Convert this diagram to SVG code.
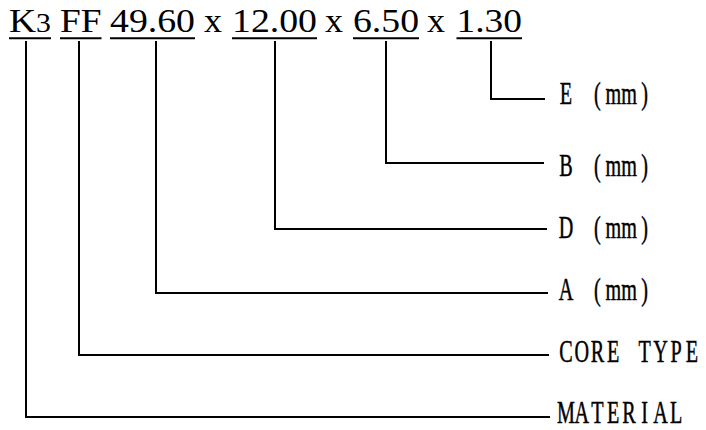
<svg xmlns="http://www.w3.org/2000/svg" width="706" height="430" viewBox="0 0 706 430">
<style>
.code{font-family:"Liberation Serif","Times New Roman",serif;font-size:34px;fill:#000}
.lbl{font-family:"Liberation Serif","Times New Roman",serif;font-size:31.5px;fill:#000;stroke:#000;stroke-width:0.5;text-anchor:middle}
.ul{stroke:#000;stroke-width:2}
.conn{fill:none;stroke:#000;stroke-width:2;stroke-linejoin:miter}
</style>
<rect width="706" height="430" fill="#fff"/>
<g id="code">
  <g id="tok-material"><text class="code" x="9" y="32" textLength="42" lengthAdjust="spacingAndGlyphs">K<tspan font-size="27">3</tspan></text><line class="ul" x1="9" y1="38.3" x2="51" y2="38.3"/></g>
  <g id="tok-core"><text class="code" x="60" y="32" textLength="41.5" lengthAdjust="spacingAndGlyphs">FF</text><line class="ul" x1="60" y1="38.3" x2="101.5" y2="38.3"/></g>
  <g id="tok-a"><text class="code" x="110" y="32" textLength="85" lengthAdjust="spacingAndGlyphs">49.60</text><line class="ul" x1="110" y1="38.3" x2="195" y2="38.3"/></g>
  <text class="code" x="204" y="32" textLength="18" lengthAdjust="spacingAndGlyphs">x</text>
  <g id="tok-d"><text class="code" x="232" y="32" textLength="85" lengthAdjust="spacingAndGlyphs">12.00</text><line class="ul" x1="232" y1="38.3" x2="317" y2="38.3"/></g>
  <text class="code" x="325" y="32" textLength="18" lengthAdjust="spacingAndGlyphs">x</text>
  <g id="tok-b"><text class="code" x="353" y="32" textLength="66" lengthAdjust="spacingAndGlyphs">6.50</text><line class="ul" x1="353" y1="38.3" x2="419" y2="38.3"/></g>
  <text class="code" x="427" y="32" textLength="18" lengthAdjust="spacingAndGlyphs">x</text>
  <g id="tok-e"><text class="code" x="456.5" y="32" textLength="65.5" lengthAdjust="spacingAndGlyphs">1.30</text><line class="ul" x1="456.5" y1="38.3" x2="522" y2="38.3"/></g>
</g>
<g id="connectors">
  <polyline class="conn" points="26,41 26,417 550,417"/>
  <polyline class="conn" points="79,41 79,355 549,355"/>
  <polyline class="conn" points="156,41 156,293 548,293"/>
  <polyline class="conn" points="275,41 275,229 547,229"/>
  <polyline class="conn" points="386,41 386,163 544,163"/>
  <polyline class="conn" points="491,41 491,99 545,99"/>
</g>
<g id="label-e"><text class="lbl" transform="matrix(0.64 0 0 1 566 104)" x="0 49.2 73.8 98.4 123" y="0">E(mm)</text></g>
<g id="label-b"><text class="lbl" transform="matrix(0.64 0 0 1 566 176)" x="0 49.2 73.8 98.4 123" y="0">B(mm)</text></g>
<g id="label-d"><text class="lbl" transform="matrix(0.64 0 0 1 566 238)" x="0 49.2 73.8 98.4 123" y="0">D(mm)</text></g>
<g id="label-a"><text class="lbl" transform="matrix(0.64 0 0 1 566 300)" x="0 49.2 73.8 98.4 123" y="0">A(mm)</text></g>
<g id="label-core"><text class="lbl" transform="matrix(0.64 0 0 1 566 362)" x="0 24.6 49.2 73.8 123 147.6 172.2 196.8" y="0">CORETYPE</text></g>
<g id="label-material"><text class="lbl" transform="matrix(0.64 0 0 1 566 423)" x="0 24.6 49.2 73.8 98.4 123 147.6 172.2" y="0">MATERIAL</text></g>
</svg>
